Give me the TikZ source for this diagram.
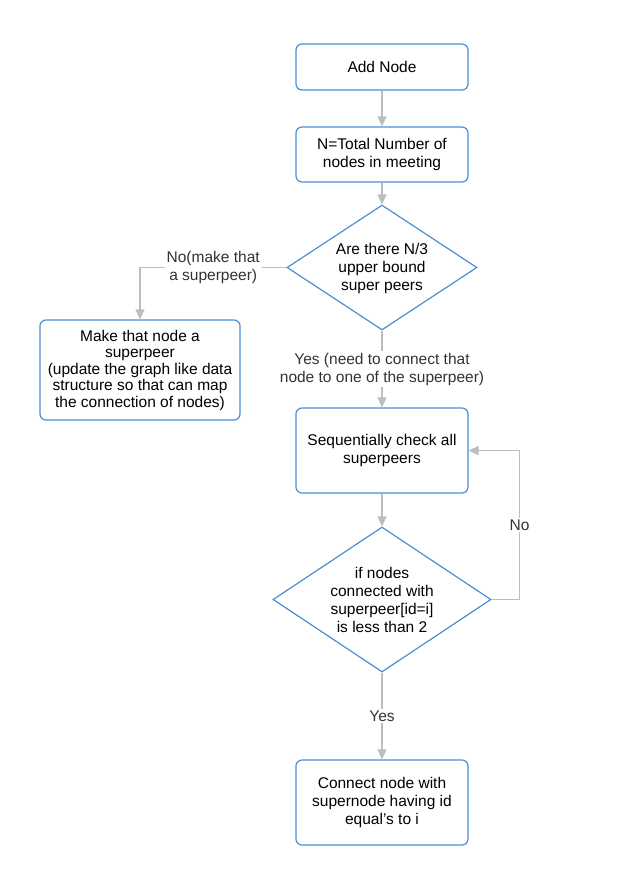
\documentclass[tikz,border=0pt]{standalone}
\usepackage{fontspec}
\setmainfont{Liberation Sans}
\usetikzlibrary{shapes.geometric,arrows.meta}
\definecolor{boxblue}{HTML}{4A8FD6}
\definecolor{linegray}{HTML}{BDBDBD}
\definecolor{lbltext}{HTML}{333333}
\tikzset{
  procbox/.style={draw=boxblue, line width=1.2pt, rounded corners=6pt, fill=white,
    align=center, inner sep=2pt, font=\fontsize{15.5}{18}\selectfont},
  decis/.style={draw=boxblue, line width=1.2pt, diamond, inner sep=0pt, fill=white},
  dtext/.style={align=center, inner sep=0pt, font=\fontsize{15.5}{18}\selectfont},
  arr/.style={draw=linegray, line width=1.3pt, -{Triangle[width=9pt,length=10pt]}},
  lbl/.style={fill=white, text=lbltext, align=center, inner sep=2pt,
    font=\fontsize{15.5}{18}\selectfont}
}
\begin{document}
\begin{tikzpicture}[x=1pt,y=-1pt]
\useasboundingbox[fill=white] (0,0) rectangle (644,894);
\node[procbox, minimum width=172pt, minimum height=46pt] (add) at (382,67) {Add Node};
\node[procbox, minimum width=172pt, minimum height=55pt] (total) at (382,154.5) {N=Total Number of\\nodes in meeting};
\node[decis, minimum width=190pt, minimum height=125pt] (d1) at (382,267.5) {};
\node[dtext] (d1t) at (382,268) {Are there N/3\\upper bound\\super peers};
\node[procbox, minimum width=200pt, minimum height=100pt, font=\fontsize{15.5}{16.5}\selectfont] (mk) at (140,370) {Make that node a\\superpeer\\(update the graph like data\\structure so that can map\\the connection of nodes)};
\node[procbox, minimum width=172pt, minimum height=85pt] (seq) at (382,450.5) {Sequentially check all\\superpeers};
\node[decis, minimum width=218pt, minimum height=145pt] (d2) at (382,599.5) {};
\node[dtext] (d2t) at (382,600) {if nodes\\connected with\\superpeer[id=i]\\is less than 2};
\node[procbox, minimum width=172pt, minimum height=85pt] (con) at (382,802.5) {Connect node with\\supernode having id\\equal's to i};

\draw[arr] (add.south) -- (total.north);
\draw[arr] (total.south) -- (d1.north);
\draw[arr] (d1.west) -| node[lbl, pos=0.25] {No(make that\\a superpeer)} (mk.north);
\draw[arr] (d1.south) -- node[lbl] {Yes (need to connect that\\node to one of the superpeer)} (seq.north);
\draw[arr] (seq.south) -- (d2.north);
\draw[arr] (d2.east) -- ++(28,0) |- node[lbl, pos=0.25] {No} (seq.east);
\draw[arr] (d2.south) -- node[lbl] {Yes} (con.north);
\end{tikzpicture}
\end{document}
